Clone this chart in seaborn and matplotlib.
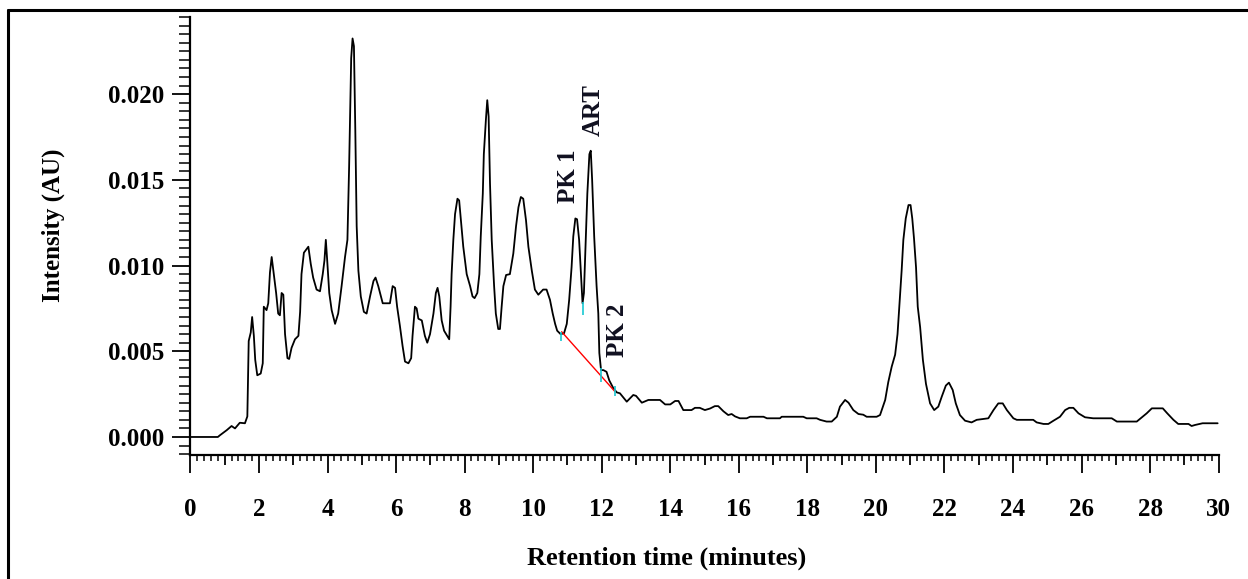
import numpy as np
import matplotlib
matplotlib.use("Agg")
import matplotlib.pyplot as plt
import seaborn as sns
from matplotlib.ticker import FormatStrFormatter, MultipleLocator
from matplotlib.lines import Line2D

# retention time (min) and intensity (AU)
time_min = [
    0.00, 0.80, 0.86, 1.06, 1.20, 1.30, 1.44, 1.59, 1.66, 1.70, 1.76, 1.80, 1.85, 1.89, 1.95,
    2.05, 2.11, 2.14, 2.22, 2.27, 2.32, 2.37, 2.42, 2.50, 2.56, 2.61, 2.66, 2.71, 2.76, 2.83,
    2.88, 2.95, 3.05, 3.15, 3.20, 3.24, 3.31, 3.44, 3.51, 3.58, 3.68, 3.78, 3.86, 3.91, 3.95,
    3.99, 4.05, 4.12, 4.22, 4.31, 4.41, 4.51, 4.58, 4.63, 4.69, 4.73, 4.77, 4.81, 4.85, 4.90,
    4.97, 5.06, 5.14, 5.24, 5.34, 5.40, 5.48, 5.61, 5.82, 5.90, 5.97, 6.03, 6.11, 6.19, 6.26,
    6.36, 6.44, 6.48, 6.55, 6.60, 6.65, 6.75, 6.84, 6.91, 6.99, 7.09, 7.16, 7.21, 7.26, 7.33,
    7.40, 7.49, 7.55, 7.59, 7.62, 7.67, 7.72, 7.79, 7.84, 7.89, 7.96, 8.06, 8.16, 8.23, 8.29,
    8.37, 8.43, 8.47, 8.53, 8.56, 8.62, 8.66, 8.70, 8.74, 8.79, 8.86, 8.91, 8.98, 9.03, 9.08,
    9.13, 9.21, 9.32, 9.42, 9.50, 9.57, 9.64, 9.71, 9.79, 9.86, 9.96, 10.05, 10.15, 10.29, 10.39,
    10.49, 10.57, 10.64, 10.70, 10.80, 10.90, 10.98, 11.05, 11.12, 11.17, 11.23, 11.28, 11.34, 11.39, 11.44,
    11.48, 11.52, 11.58, 11.64, 11.68, 11.72, 11.78, 11.85, 11.90, 11.93, 11.98, 12.05, 12.14, 12.22, 12.34,
    12.44, 12.53, 12.73, 12.92, 13.00, 13.17, 13.36, 13.70, 13.85, 14.00, 14.14, 14.24, 14.38, 14.62, 14.72,
    14.86, 15.01, 15.16, 15.30, 15.40, 15.55, 15.69, 15.79, 15.89, 16.03, 16.23, 16.33, 16.72, 16.82, 17.20,
    17.25, 17.88, 17.98, 18.27, 18.37, 18.56, 18.71, 18.86, 18.95, 19.10, 19.20, 19.34, 19.49, 19.63, 19.73,
    20.02, 20.12, 20.27, 20.36, 20.46, 20.56, 20.63, 20.70, 20.75, 20.80, 20.87, 20.95, 21.01, 21.06, 21.11,
    21.17, 21.22, 21.29, 21.37, 21.46, 21.58, 21.70, 21.82, 21.92, 22.04, 22.13, 22.24, 22.33, 22.45, 22.60,
    22.79, 22.94, 23.28, 23.43, 23.57, 23.70, 23.82, 24.01, 24.11, 24.59, 24.69, 24.89, 25.03, 25.18, 25.37,
    25.52, 25.64, 25.76, 25.91, 26.10, 26.34, 26.88, 27.03, 27.61, 27.76, 27.90, 28.05, 28.37, 28.50, 28.68,
    28.82, 29.12, 29.21, 29.31, 29.53, 29.97,
]
intensity = [
    0.0000, 0.0000, 0.0001, 0.0004, 0.00064, 0.0005, 0.00083, 0.0008, 0.0012, 0.0056, 0.0061, 0.0070, 0.0059, 0.0045, 0.0036,
    0.0037, 0.0043, 0.0076, 0.0074, 0.0078, 0.0096, 0.0105, 0.0097, 0.0084, 0.0072, 0.0071, 0.0084, 0.0083, 0.0060, 0.0046,
    0.00455, 0.0052, 0.0057, 0.0059, 0.0073, 0.0095, 0.01075, 0.0111, 0.0101, 0.0093, 0.0086, 0.0085, 0.0095, 0.0103, 0.0115,
    0.0103, 0.0084, 0.0074, 0.0066, 0.0072, 0.0088, 0.0105, 0.0115, 0.0158, 0.0221, 0.02325, 0.0228, 0.0179, 0.0123, 0.0097,
    0.0082, 0.0073, 0.0072, 0.0082, 0.0091, 0.0093, 0.0088, 0.0078, 0.0078, 0.0088, 0.0087, 0.0076, 0.0065, 0.0053, 0.0044,
    0.0043, 0.0046, 0.0059, 0.0076, 0.0075, 0.0069, 0.0068, 0.0059, 0.0055, 0.0060, 0.0072, 0.0084, 0.0087, 0.0082, 0.0068,
    0.0062, 0.0059, 0.0057, 0.0076, 0.0095, 0.0115, 0.0130, 0.0139, 0.0138, 0.01265, 0.0111, 0.0095, 0.0088, 0.0082, 0.0081,
    0.0084, 0.0095, 0.0117, 0.0142, 0.0165, 0.0185, 0.01965, 0.0187, 0.0148, 0.0115, 0.0088, 0.0072, 0.0063, 0.0063, 0.0076,
    0.0088, 0.00945, 0.0095, 0.0107, 0.0123, 0.0134, 0.0140, 0.0139, 0.01265, 0.0111, 0.0097, 0.0086, 0.0083, 0.0086, 0.0086,
    0.0080, 0.0072, 0.0066, 0.0062, 0.0060, 0.00605, 0.0066, 0.0080, 0.0099, 0.0117, 0.01275, 0.0127, 0.0115, 0.0097, 0.0078,
    0.0084, 0.0107, 0.0142, 0.0165, 0.0167, 0.0150, 0.0117, 0.0088, 0.0072, 0.0049, 0.0039, 0.0039, 0.0038, 0.0033, 0.00284,
    0.0026, 0.00255, 0.00206, 0.00245, 0.0024, 0.0020, 0.00216, 0.00216, 0.0019, 0.0019, 0.0021, 0.0021, 0.00157, 0.00157, 0.0017,
    0.0017, 0.00157, 0.00166, 0.0018, 0.0018, 0.0015, 0.00128, 0.00134, 0.0012, 0.00109, 0.00109, 0.00118, 0.00118, 0.00109, 0.00109,
    0.00118, 0.00118, 0.00109, 0.00109, 0.0010, 0.0009, 0.0009, 0.00118, 0.00177, 0.00216, 0.0020, 0.00157, 0.00134, 0.0013, 0.00118,
    0.00118, 0.00128, 0.00216, 0.0032, 0.0041, 0.0048, 0.0060, 0.0082, 0.0097, 0.0115, 0.01275, 0.01353, 0.01353, 0.01275, 0.0116,
    0.0099, 0.0076, 0.0064, 0.0045, 0.0031, 0.00196, 0.00157, 0.00177, 0.00235, 0.0030, 0.00317, 0.00274, 0.00196, 0.00128, 0.00095,
    0.00085, 0.0010, 0.00109, 0.00157, 0.00196, 0.00196, 0.00157, 0.00109, 0.0010, 0.0010, 0.00085, 0.00076, 0.00076, 0.00095, 0.00118,
    0.00157, 0.0017, 0.0017, 0.00138, 0.00115, 0.00109, 0.00109, 0.0009, 0.0009, 0.00115, 0.00138, 0.00167, 0.00167, 0.00138, 0.0010,
    0.00076, 0.00076, 0.00064, 0.0007, 0.0008, 0.0008,
]

# integration baseline under PK 1 / ART / PK 2 and peak boundary marks
baseline_t = [10.83, 12.39]
baseline_y = [0.00614, 0.00264]
marker_t = [10.80, 11.44, 11.97, 12.40]
marker_lo = [0.0056, 0.0071, 0.0032, 0.0024]
marker_hi = [0.0061, 0.0079, 0.0040, 0.0030]

peak_names = ["PK 1", "ART", "PK 2"]
peak_label_t = [11.02, 11.75, 12.45]
peak_label_y = [0.0152, 0.0191, 0.0062]

sns.set_theme(style="ticks")
plt.rcParams["font.family"] = ["Liberation Serif", "DejaVu Serif"]
plt.rcParams["font.weight"] = "bold"

fig = plt.figure(figsize=(12.48, 5.79), dpi=100)
ax = fig.add_axes([0.1526, 0.2142, 0.8239, 0.7564])

sns.lineplot(x=time_min, y=intensity, ax=ax, color="black", linewidth=1.3,
             estimator=None, sort=False)
ax.plot(baseline_t, baseline_y, color="red", linewidth=1.0)
ax.vlines(marker_t, marker_lo, marker_hi, color="#19c8d2", linewidth=1.2)

for name, tx, ty in zip(peak_names, peak_label_t, peak_label_y):
    ax.text(tx, ty, name, rotation=90, ha="center", va="center",
            fontsize=18, fontweight="bold", color="#101020")

ax.set_xlim(0, 30)
ax.set_ylim(-0.00105, 0.0245)

for side in ["top", "right"]:
    ax.spines[side].set_visible(False)
for side in ["left", "bottom"]:
    ax.spines[side].set_linewidth(1.6)
    ax.spines[side].set_color("black")

# x: long ticks at even minutes, medium at odd, small every 0.2
ax.set_xticks(range(0, 31))
ax.set_xticklabels([str(i) if i % 2 == 0 else "" for i in range(0, 31)])
ax.xaxis.set_minor_locator(MultipleLocator(0.2))
ax.tick_params(axis="x", which="major", direction="out", length=13, width=1.3,
               pad=18, labelsize=18, colors="black")
ax.tick_params(axis="x", which="minor", direction="out", length=4.5, width=1.1, colors="black")
for i, tick in enumerate(ax.xaxis.get_major_ticks()):
    if i % 2 == 1:
        tick.tick1line.set_markersize(7.5)

ax.yaxis.set_major_locator(MultipleLocator(0.005))
ax.yaxis.set_minor_locator(MultipleLocator(0.0005))
ax.yaxis.set_major_formatter(FormatStrFormatter("%.3f"))
ax.tick_params(axis="y", which="major", direction="out", length=13, width=1.3,
               pad=6, labelsize=18, colors="black")
ax.tick_params(axis="y", which="minor", direction="out", length=8, width=1.1, colors="black")
for lab in ax.get_xticklabels() + ax.get_yticklabels():
    lab.set_fontweight("bold")

ax.set_xlabel("Retention time (minutes)", fontsize=19, fontweight="bold", color="black")
ax.set_ylabel("Intensity (AU)", fontsize=18, fontweight="bold", color="black")
ax.xaxis.set_label_coords(0.4635, -0.235)
ax.xaxis.label.set_va("center")
ax.yaxis.set_label_coords(-0.1337, 0.525)
ax.yaxis.label.set_va("center")

# frame lines along the left and top edge of the picture
fig.add_artist(Line2D([8 / 1248, 8 / 1248], [0, 1 - 10 / 579], transform=fig.transFigure,
                      color="black", linewidth=2.2))
fig.add_artist(Line2D([8 / 1248, 1], [1 - 10 / 579, 1 - 10 / 579], transform=fig.transFigure,
                      color="black", linewidth=2.2))

fig.savefig("out.png", dpi=100)
